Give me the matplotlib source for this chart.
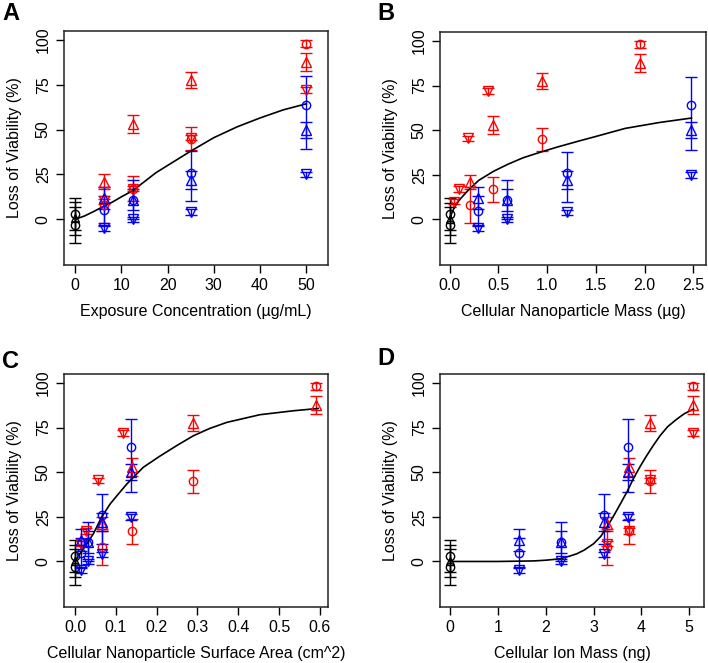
import matplotlib.pyplot as plt
import numpy as np

plt.rcParams['font.family'] = ['Liberation Sans', 'DejaVu Sans']

# measured y values (loss of viability, %) for each treatment set, 4 doses
red_circle = [8, 17, 45, 98]
red_circle_err = [10, 7, 6.5, 2]
red_up = [21, 53, 77.5, 87.5]
red_up_err = [4, 5, 4.5, 5]
red_down = [10, 17, 45.5, 72]
red_down_err = [1.5, 1.5, 1.5, 1.5]
blue_circle = [5, 11, 26, 64]
blue_circle_err_lo = [8, 11, 16, 25]
blue_circle_err_hi = [8, 11, 12, 16]
blue_up = [12, 11, 22, 50]
blue_up_err = [6, 6, 5, 4.5]
blue_down = [-5, 0, 4, 25]
blue_down_err = [1.5, 1.5, 1.5, 1.5]
# controls (x = 0)
ctrl = [3, 0.5, -3]
ctrl_err = [9, 9, 10]
ctrl_markers = ['o', '^', 'o']

# x positions of each set in each panel
exposure = [6.25, 12.5, 25, 50]
x_red = {'A': exposure, 'B': [0.205, 0.44, 0.95, 1.95],
         'C': [0.065, 0.139, 0.29, 0.59], 'D': [3.29, 3.74, 4.18, 5.08]}
x_red_down = {'A': exposure, 'B': [0.048, 0.095, 0.19, 0.39],
              'C': [0.014, 0.028, 0.057, 0.117], 'D': [3.29, 3.74, 4.18, 5.08]}
x_blue = {'A': exposure, 'B': [0.29, 0.59, 1.2, 2.48],
          'C': [0.015, 0.033, 0.066, 0.136], 'D': [1.44, 2.33, 3.21, 3.72]}

# fitted curves
curve_x = {
    'A': [0, 2, 4, 6, 8, 10, 12.5, 15, 17.5, 20, 22.5, 25, 30, 35, 40, 45, 50],
    'B': [0, 0.02, 0.05, 0.1, 0.2, 0.3, 0.45, 0.6, 0.75, 0.92, 1.1, 1.33, 1.5,
          1.8, 2.15, 2.48],
    'C': [0, 0.012, 0.029, 0.045, 0.065, 0.086, 0.107, 0.127, 0.167, 0.208,
          0.25, 0.29, 0.33, 0.372, 0.453, 0.535, 0.596],
    'D': [0, 1.0, 1.74, 2.0, 2.3, 2.5, 2.65, 2.8, 3.0, 3.15, 3.28, 3.42, 3.56,
          3.7, 3.83, 3.97, 4.11, 4.25, 4.39, 4.55, 4.74, 4.9, 5.09],
}
curve_y = {
    'A': [0, 1.8, 4.3, 7, 9.5, 12.5, 16, 21, 26, 30, 34, 38, 45.5, 51.5, 56.5,
          61, 64.4],
    'B': [0, 3.5, 7, 11, 17, 22, 27, 31, 34.5, 37.5, 40.5, 44, 46.5, 51, 54.3,
          56.8],
    'C': [0, 4.3, 9.9, 15.5, 24.8, 32.2, 38, 43.4, 52.7, 59, 65, 70.4, 74.5,
          77.9, 82.2, 84.4, 85.7],
    'D': [0, 0, 0.3, 0.7, 1.5, 3.0, 4.3, 6.3, 9.9, 14, 19.2, 25.5, 32.2, 39,
          46.2, 53, 59.2, 65, 70.4, 75.5, 79.7, 82.8, 85.3],
}

xlabels = {'A': 'Exposure Concentration (µg/mL)',
           'B': 'Cellular Nanoparticle Mass (µg)',
           'C': 'Cellular Nanoparticle Surface Area (cm^2)',
           'D': 'Cellular Ion Mass (ng)'}
xticks = {'A': [0, 10, 20, 30, 40, 50],
          'B': [0.0, 0.5, 1.0, 1.5, 2.0, 2.5],
          'C': [0.0, 0.1, 0.2, 0.3, 0.4, 0.5, 0.6],
          'D': [0, 1, 2, 3, 4, 5]}
xticklabels = {'A': ['0', '10', '20', '30', '40', '50'],
               'B': ['0.0', '0.5', '1.0', '1.5', '2.0', '2.5'],
               'C': ['0.0', '0.1', '0.2', '0.3', '0.4', '0.5', '0.6'],
               'D': ['0', '1', '2', '3', '4', '5']}
xlims = {'A': (-2.4, 54.7), 'B': (-0.10, 2.63), 'C': (-0.027, 0.62),
         'D': (-0.21, 5.31)}

W, H = 708, 663
fig = plt.figure(figsize=(W / 100, H / 100), dpi=100)
boxes = {'A': (64, 328, 31, 265), 'B': (440, 706, 32, 265),
         'C': (64, 328, 374, 607), 'D': (440, 704, 374, 607)}
letter_pos = {'A': (2, 2), 'B': (377, 2), 'C': (2, 350), 'D': (377, 347)}

eb = dict(linestyle='none', mfc='none', capsize=4.5, elinewidth=1.0,
          markeredgewidth=1.0, capthick=1.0)

for key, (l, r, t, b) in boxes.items():
    ax = fig.add_axes([l / W, 1 - b / H, (r - l) / W, (b - t) / H])
    for i in range(3):
        ax.errorbar([0], [ctrl[i]], yerr=[ctrl_err[i]], fmt=ctrl_markers[i],
                    color='black', ms=6, **eb)
    ax.errorbar(x_red[key], red_circle, yerr=red_circle_err, fmt='o',
                color='red', ms=6, **eb)
    ax.errorbar(x_red[key], red_up, yerr=red_up_err, fmt='^',
                color='red', ms=7, **eb)
    ax.errorbar(x_red_down[key], red_down, yerr=red_down_err, fmt='v',
                color='red', ms=7, **eb)
    ax.errorbar(x_blue[key], blue_circle,
                yerr=[blue_circle_err_lo, blue_circle_err_hi], fmt='o',
                color='blue', ms=6, **eb)
    ax.errorbar(x_blue[key], blue_up, yerr=blue_up_err, fmt='^',
                color='blue', ms=7, **eb)
    ax.errorbar(x_blue[key], blue_down, yerr=blue_down_err, fmt='v',
                color='blue', ms=7, **eb)
    ax.plot(curve_x[key], curve_y[key], color='black', lw=1.2)

    ax.set_xlim(*xlims[key])
    ax.set_ylim(-25.5, 105)
    ax.set_xticks(xticks[key])
    ax.set_xticklabels(xticklabels[key])
    ax.set_yticks([0, 25, 50, 75, 100])
    ax.set_yticklabels(['0', '25', '50', '75', '100'], rotation=90,
                       va='center')
    ax.tick_params(direction='out', length=5.5, width=1.0, labelsize=11.5,
                   pad=4)
    for s in ax.spines.values():
        s.set_linewidth(1.1)
        s.set_color('#222222')
    ax.set_xlabel(xlabels[key], fontsize=11.5, labelpad=8)
    ax.set_ylabel('Loss of Viability (%)', fontsize=11.5, labelpad=10)
    lx, ly = letter_pos[key]
    fig.text(lx / W, 1 - ly / H, key, fontsize=17, fontweight='bold',
             ha='left', va='top')

fig.savefig('out.png', dpi=100)
